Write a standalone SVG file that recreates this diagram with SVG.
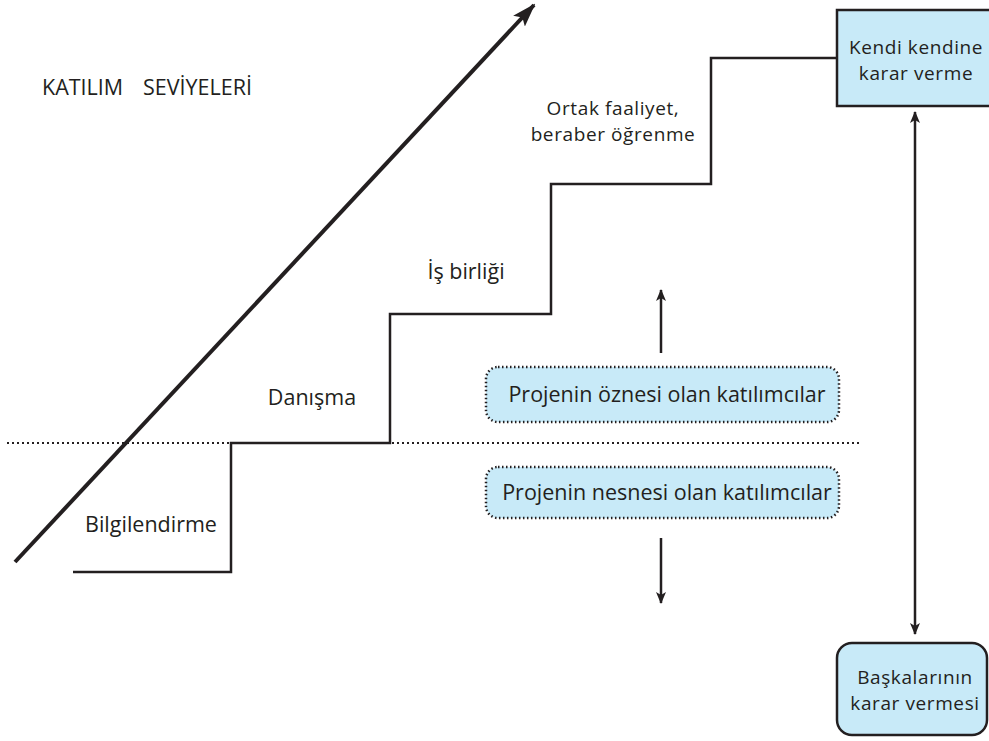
<svg xmlns="http://www.w3.org/2000/svg" width="989" height="741" viewBox="0 0 989 741">
<style>
  text { font-family: "Open Sans", "Liberation Sans", sans-serif; fill: #231f20; font-size: 21.5px; }
  .c { text-anchor: middle; }
  .two { font-size: 19px; letter-spacing: 0.6px; }
  .line { fill: none; stroke: #231f20; stroke-width: 2.5; }
  .box { fill: #c8eaf8; stroke: #231f20; stroke-width: 2.5; }
  .dbox { fill: #c8eaf8; stroke: #231f20; stroke-width: 2.5; stroke-dasharray: 1.5 2.5; }
  .dot { fill: none; stroke: #231f20; stroke-width: 2; stroke-dasharray: 2 3; }
</style>
<defs>
  <marker id="ah" viewBox="0 0 12 10" refX="11" refY="5" markerWidth="12" markerHeight="10" markerUnits="userSpaceOnUse" orient="auto-start-reverse">
    <path d="M0,0 L12,5 L0,10 L3,5 Z" fill="#231f20"/>
  </marker>
  <marker id="big" viewBox="0 0 24 16" refX="22" refY="8" markerWidth="24" markerHeight="16" markerUnits="userSpaceOnUse" orient="auto">
    <path d="M0,0 L24,8 L0,16 L5,8 Z" fill="#231f20"/>
  </marker>
</defs>

<g id="title">
  <text x="42" y="95" style="font-size:21.5px">KATILIM</text>
  <text x="143" y="95" style="font-size:21.5px">SEVİYELERİ</text>
</g>

<g id="connectors">
  <line class="dot" x1="7" y1="443" x2="862" y2="443"/>
  <line x1="15" y1="562" x2="534" y2="5" stroke="#231f20" stroke-width="4" marker-end="url(#big)"/>
  <polyline class="line" points="73,572 231,572 231,443 390,443 390,314 551,314 551,184 711,184 711,58 838,58"/>
  <line class="line" x1="915" y1="112" x2="915" y2="634" stroke-width="2" marker-start="url(#ah)" marker-end="url(#ah)"/>
  <line class="line" x1="661" y1="353" x2="661" y2="290" stroke-width="2" marker-end="url(#ah)"/>
  <line class="line" x1="661" y1="538" x2="661" y2="603" stroke-width="2" marker-end="url(#ah)"/>
</g>

<g id="bilgilendirme"><text x="151" y="532" class="c">Bilgilendirme</text></g>
<g id="danisma"><text x="312" y="405" class="c">Danışma</text></g>
<g id="isbirligi"><text x="466" y="279" class="c">İş birliği</text></g>
<g id="ortak"><text class="c two"><tspan x="613" y="115">Ortak faaliyet,</tspan><tspan x="613" y="141">beraber öğrenme</tspan></text></g>

<g id="kendi">
  <rect class="box" x="837" y="10" width="160" height="96"/>
  <text class="c two"><tspan x="916" y="54">Kendi kendine</tspan><tspan x="916" y="80">karar verme</tspan></text>
</g>

<g id="baskalari">
  <rect class="box" x="837" y="643" width="150" height="92" rx="15"/>
  <text class="c two"><tspan x="915" y="684">Başkalarının</tspan><tspan x="915" y="710">karar vermesi</tspan></text>
</g>

<g id="ozne">
  <rect class="dbox" x="486" y="367" width="353" height="55" rx="12"/>
  <text x="667" y="402" class="c">Projenin öznesi olan katılımcılar</text>
</g>

<g id="nesne">
  <rect class="dbox" x="486" y="467" width="353" height="51" rx="12"/>
  <text x="667" y="500" class="c">Projenin nesnesi olan katılımcılar</text>
</g>
</svg>
